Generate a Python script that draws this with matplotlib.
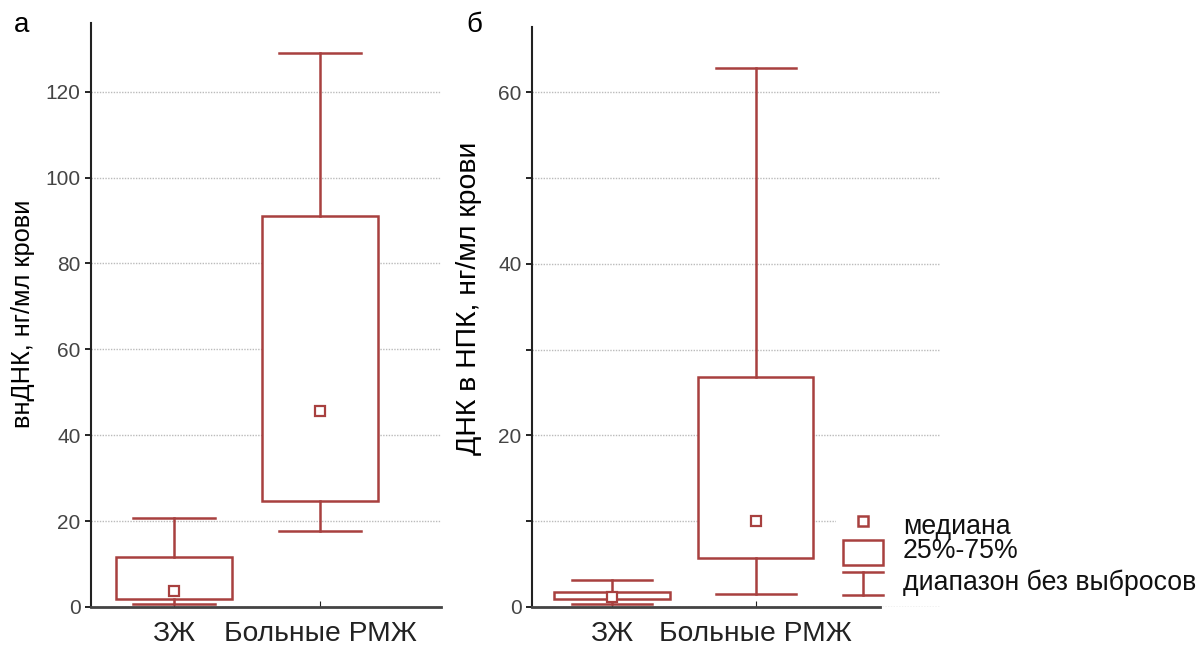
import matplotlib
matplotlib.use("Agg")
import matplotlib.pyplot as plt
from matplotlib.patches import Rectangle
from matplotlib.lines import Line2D

plt.rcParams['font.family'] = ['Liberation Sans', 'DejaVu Sans']

# ---- data ----
groups = ["ЗЖ", "Больные РМЖ"]
# panel а: внДНК
a_med = [3.8, 45.7]
a_q1 = [1.9, 24.8]
a_q3 = [11.7, 91.0]
a_lo = [0.7, 17.7]
a_hi = [20.7, 129.1]
# panel б: ДНК в НПК
b_med = [1.2, 10.0]
b_q1 = [0.9, 5.7]
b_q3 = [1.8, 26.8]
b_lo = [0.3, 1.5]
b_hi = [3.2, 62.8]

a_ylabel = "внДНК, нг/мл крови"
b_ylabel = "ДНК в НПК, нг/мл крови"
legend_labels = ["медиана", "25%-75%", "диапазон без выбросов"]

RED = "#a8403f"
W, H = 1199, 648
fig = plt.figure(figsize=(W / 100, H / 100), dpi=100)


def make_stats(med, q1, q3, lo, hi):
    return [dict(med=m, q1=a, q3=b, whislo=l, whishi=h, mean=m, fliers=[])
            for m, a, b, l, h in zip(med, q1, q3, lo, hi)]


def draw(ax, stats):
    ax.bxp(stats, positions=[1, 2], widths=0.8, patch_artist=True,
           showmeans=True, meanline=False, showfliers=False,
           boxprops=dict(facecolor="white", edgecolor=RED, linewidth=1.8),
           whiskerprops=dict(color=RED, linewidth=1.8),
           capprops=dict(color=RED, linewidth=1.8),
           medianprops=dict(linewidth=0),
           meanprops=dict(marker="s", markersize=6.5, markerfacecolor="white",
                          markeredgecolor=RED, markeredgewidth=1.6),
           capwidths=0.56, zorder=3)
    ax.set_xticks([1, 2])
    ax.set_xticklabels(groups, fontsize=20.3)
    ax.tick_params(axis="x", direction="in", length=4, pad=10, colors="#222222")
    ax.tick_params(axis="y", direction="out", length=4, labelsize=15,
                   labelcolor="#444444", width=1.2)
    ax.tick_params(axis="y", which="minor", direction="out", length=4, width=1.2)
    for s in ["top", "right"]:
        ax.spines[s].set_visible(False)
    ax.spines["left"].set_color("#222222")
    ax.spines["left"].set_linewidth(1.5)
    ax.spines["bottom"].set_color("#444444")
    ax.spines["bottom"].set_linewidth(2)
    ax.grid(axis="y", which="both", linestyle=(0, (1, 1)), color="#bbbbbb",
            linewidth=1.0, zorder=0)
    ax.set_axisbelow(True)


# panel а
ax1 = fig.add_axes([91 / W, 41 / H, 350 / W, 584 / H])
draw(ax1, make_stats(a_med, a_q1, a_q3, a_lo, a_hi))
ax1.set_xlim(0.432, 2.829)
ax1.set_ylim(0, 136)
ax1.set_yticks([0, 20, 40, 60, 80, 100, 120])
ax1.set_ylabel(a_ylabel, fontsize=18.3)
ax1.yaxis.set_label_coords(-0.16, 0.502)

# panel б
ax2 = fig.add_axes([532 / W, 41 / H, 408 / W, 580 / H])
draw(ax2, make_stats(b_med, b_q1, b_q3, b_lo, b_hi))
ax2.set_xlim(0.444, 3.28)
ax2.set_ylim(0, 67.6)
ax2.set_yticks([0, 20, 40, 60])
ax2.set_yticks([10, 30, 50], minor=True)
ax2.spines["bottom"].set_bounds(0.444, 2.86)
ax2.set_ylabel(b_ylabel, fontsize=20.4)
ax2.yaxis.set_label_coords(-0.1225, 0.533)

# legend glyph (axes-fraction coordinates of ax2)
def fx(px):
    return (px - 532) / 408


def fy(py):
    return (607 - py) / 580


T = ax2.transAxes
ax2.add_patch(Rectangle((fx(836), fy(600)), fx(940) - fx(836), fy(505) - fy(600),
                        transform=T, facecolor="white", edgecolor="none", zorder=2))
ax2.add_patch(Rectangle((fx(843), fy(565)), fx(883) - fx(843), fy(540) - fy(565),
                        transform=T, facecolor="white", edgecolor=RED,
                        linewidth=1.8, zorder=4))
for (x0, x1, y0, y1) in [(843, 883, 572, 572), (843, 883, 595, 595), (863, 863, 572, 595)]:
    ax2.add_line(Line2D([fx(x0), fx(x1)], [fy(y0), fy(y1)], transform=T,
                        color=RED, linewidth=1.8, zorder=4))
ax2.add_line(Line2D([fx(863)], [fy(521)], transform=T, marker="s", markersize=6.5,
                    markerfacecolor="white", markeredgecolor=RED,
                    markeredgewidth=1.8, zorder=4))

for txt, py in zip(legend_labels, [527, 551, 583]):
    fig.text(903 / W, (H - py) / H, txt, fontsize=19.2, va="center", ha="left",
             color="#111111")

fig.text(14 / W, (H - 25) / H, "а", fontsize=20, va="center", ha="left")
fig.text(466 / W, (H - 25) / H, "б", fontsize=20, va="center", ha="left")

fig.savefig("out.png", dpi=100)
